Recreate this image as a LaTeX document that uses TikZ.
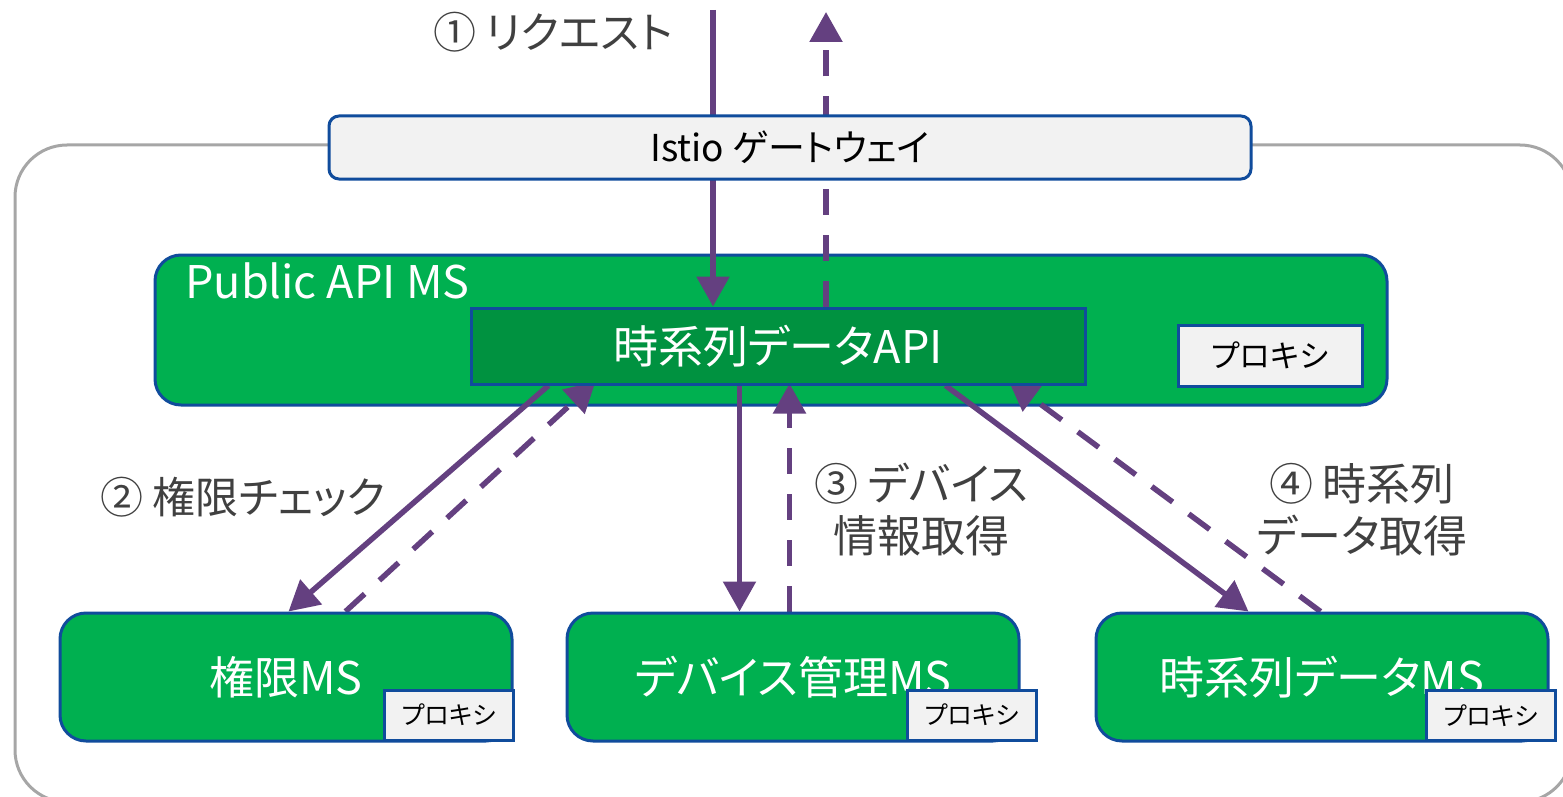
\documentclass[tikz,border=0pt]{standalone}
\usepackage{fontspec}
\setmainfont{Noto Sans CJK JP}[RawFeature=+palt]
\usetikzlibrary{arrows.meta,calc}
\definecolor{msgreen}{RGB}{0,176,80}
\definecolor{apigreen}{RGB}{0,146,64}
\definecolor{edgeblue}{RGB}{16,76,156}
\definecolor{flow}{RGB}{100,64,128}
\definecolor{paper}{RGB}{242,242,242}
\definecolor{frame}{RGB}{166,166,166}
\definecolor{note}{RGB}{64,64,64}
\pgfdeclarelayer{back}
\pgfdeclarelayer{mid}
\pgfsetlayers{back,mid,main}
\newcommand{\fsz}[1]{\fontsize{#1}{#1}\selectfont}
\tikzset{
  msbox/.style={draw=edgeblue, line width=3pt, fill=msgreen, rounded corners=26pt,
    minimum width=452pt, minimum height=128pt, inner sep=0pt, text=white,
    font=\fsz{45}},
  proxybox/.style={draw=edgeblue, line width=3pt, fill=paper, inner sep=0pt,
    text=black},
  tag/.style={text=note, font=\fsz{43}, align=center, inner sep=0pt},
  req/.style={draw=flow, line width=5.5pt, -{Triangle[width=32pt,length=30pt]}},
  reply/.style={req, dash pattern=on 26pt off 20pt},
}
\begin{document}
\begin{tikzpicture}[x=1pt,y=-1pt]
\useasboundingbox (0,0) rectangle (1563,797);

% enclosing frame and the Public API service box
\begin{pgfonlayer}{back}
  \draw[frame, line width=3pt, rounded corners=52pt] (15,145) rectangle (1572,802);
  \node[draw=edgeblue, line width=3pt, fill=msgreen, rounded corners=26pt,
        minimum width=1232pt, minimum height=150pt, inner sep=0pt] (pub) at (771,330) {};
\end{pgfonlayer}
\node[anchor=base west, text=white, font=\fsz{45}, inner sep=0pt] (publabel) at (185,298) {Public API MS};

% gateway
\node[draw=edgeblue, line width=3pt, fill=paper, rounded corners=10pt,
      minimum width=922pt, minimum height=63pt, inner sep=0pt, font=\fsz{37}] (gw) at (790,147.5) {Istio ゲートウェイ};

% API component
\node[draw=edgeblue, line width=3pt, fill=apigreen, minimum width=614pt, minimum height=76pt,
      inner sep=0pt, text=white, font=\fsz{45}] (api) at (778,346) {時系列データAPI};
\node[proxybox, minimum width=184pt, minimum height=61pt, font=\fsz{31}] (pxpub) at (1270,355.5) {プロキシ};

% backend services
\node[msbox] (auth) at (286,677) {権限MS};
\node[msbox] (dev) at (793,677) {デバイス管理MS};
\node[msbox] (ts) at (1322,677) {時系列データMS};
\node[proxybox, minimum width=129pt, minimum height=50pt, font=\fsz{25}] (pxauth) at (448.5,715) {プロキシ};
\node[proxybox, minimum width=129pt, minimum height=50pt, font=\fsz{25}] (pxdev) at (971.5,715) {プロキシ};
\node[proxybox, minimum width=129pt, minimum height=50pt, font=\fsz{25}] (pxts) at (1490.5,715.5) {プロキシ};

% step labels
\node[tag] (t1) at (553,32) {① リクエスト};
\node[tag] (t2) at (243,497) {② 権限チェック};
\node[tag, font=\fsz{44}] (t3) at (921,510) {③ デバイス\\[8pt]情報取得};
\node[tag, font=\fsz{44}] (t4) at (1362,510) {④ 時系列\\[8pt]データ取得};

\coordinate (intop) at (713,10);
\coordinate (outtop) at (826,12);

% message flow
\begin{pgfonlayer}{mid}
  \draw[req] (intop) -- (intop |- api.north);
  \draw[reply] (outtop |- api.north) -- (outtop);
  \draw[req] ($(api.south west)+(79,0)$) -- ($(auth.north west)+(230,0)$);
  \draw[reply] ($(auth.north west)+(287,0)$) -- ($(api.south west)+(126,-4)$);
  \draw[req] ($(api.south west)+(270,0)$) -- ($(dev.north west)+(174,0)$);
  \draw[reply] ($(dev.north west)+(224,0)$) -- ($(api.south west)+(320,-2)$);
  \draw[req] ($(api.south west)+(476,0)$) -- ($(ts.north west)+(154,0)$);
  \draw[reply] ($(ts.north west)+(226,0)$) -- ($(api.south west)+(539,-5)$);
\end{pgfonlayer}
\end{tikzpicture}
\end{document}
